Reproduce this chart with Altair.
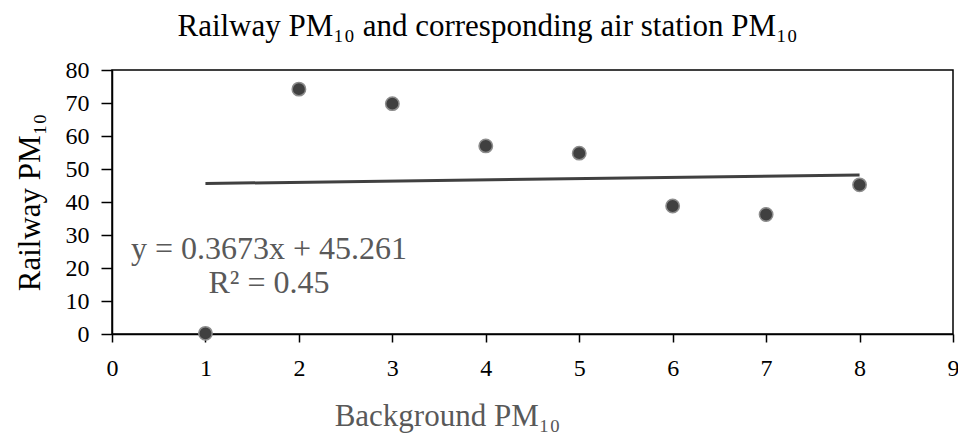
import altair as alt
import pandas as pd

# data
bg_x = [1, 2, 3, 4, 5, 6, 7, 8]
rail_y = [0.2, 74.2, 69.8, 57.0, 54.8, 38.8, 36.2, 45.2]
trend_x = [1, 8]
trend_y = [45.6, 48.2]
ann_text = ["y = 0.3673x + 45.261", "R² = 0.45"]
ann_x = [1.68, 1.68]
ann_y = [25.8, 15.5]
x_ticks = list(range(0, 10))
y_ticks = list(range(0, 90, 10))

FONT = "Liberation Serif"

pts = pd.DataFrame({"x": bg_x, "y": rail_y})
trend = pd.DataFrame({"x": trend_x, "y": trend_y})
ann = pd.DataFrame({"t": ann_text, "x": ann_x, "y": ann_y})

xs = alt.Scale(domain=[0, 9], nice=False, zero=False)
ys = alt.Scale(domain=[0, 80], nice=False, zero=False)

x_axis = alt.Axis(
    title="Background PM₁₀", values=x_ticks, format="d", grid=False,
    domainColor="black", domainWidth=1.5, tickColor="black", tickWidth=1.5,
    tickSize=8, labelFont=FONT, labelFontSize=24, labelColor="black",
    labelPadding=14, labelFlush=False,
    titleFont=FONT, titleFontSize=31, titleFontWeight="normal", titleColor="#595959",
    titleX=335, titleY=91, titleBaseline="alphabetic", titleAlign="center",
)
y_axis = alt.Axis(
    title="Railway PM₁₀", values=y_ticks, format="d", grid=False,
    domainColor="black", domainWidth=1.5, tickColor="black", tickWidth=1.5,
    tickSize=11, labelFont=FONT, labelFontSize=24, labelColor="black",
    labelPadding=12, labelFlush=False,
    titleFont=FONT, titleFontSize=31, titleFontWeight="normal", titleColor="black",
    titleX=-82, titleY=132, titleBaseline="middle", titleAlign="center", titleAngle=270,
)

X = alt.X("x:Q", scale=xs, axis=x_axis)
Y = alt.Y("y:Q", scale=ys, axis=y_axis)

points = alt.Chart(pts).mark_point(
    filled=True, shape="circle", size=180, fill="#404040", stroke="#8c8c8c",
    strokeWidth=1.5, opacity=1,
).encode(x=X, y=Y)

line = alt.Chart(trend).mark_line(color="#404040", strokeWidth=3).encode(x=X, y=Y)

text = alt.Chart(ann).mark_text(
    font=FONT, fontSize=32, color="#595959", align="center", baseline="middle"
).encode(x=X, y=Y, text="t:N")

chart = alt.layer(points, line, text).properties(
    width=841, height=264,
    title=alt.TitleParams(
        "Railway PM₁₀ and corresponding air station PM₁₀",
        font=FONT, fontSize=31, fontWeight="normal", color="black",
        anchor="middle", dx=-45, offset=15,
    ),
    autosize=alt.AutoSizeParams(type="none"),
    padding={"left": 104, "top": 62, "right": 5, "bottom": 104},
).configure_view(stroke="black", strokeWidth=1.5)

chart.save("out.html", embed_options={"renderer": "svg", "actions": False})
